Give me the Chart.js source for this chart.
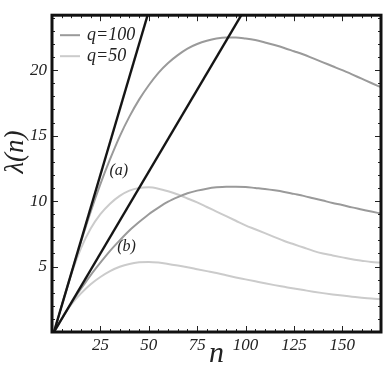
<!DOCTYPE html>
<html>
<head>
<meta charset="utf-8">
<script src="https://cdn.jsdelivr.net/npm/chart.js@4/dist/chart.umd.min.js"></script>
<style>
  html, body { margin: 0; padding: 0; background: #fff; }
  #wrap { width: 384px; height: 365px; }
</style>
</head>
<body>
<div id="wrap"><canvas id="c" width="384" height="365"></canvas></div>
<script>
// ---- data ----
const nValues = [1, 5, 10, 15, 20, 25, 30, 35, 40, 45, 50, 55, 60, 65, 70, 75, 80, 85, 90, 95, 100,
                 105, 110, 115, 120, 125, 130, 135, 140, 145, 150, 155, 160, 165, 170];
const q100Upper = [0, 2.0, 4.5, 6.9, 9.2, 11.3, 13.2, 14.95, 16.45, 17.75, 18.85, 19.8, 20.55, 21.15, 21.65, 22.0, 22.25, 22.42, 22.5, 22.5, 22.42,
                   22.3, 22.12, 21.92, 21.7, 21.45, 21.2, 20.9, 20.6, 20.3, 20.0, 19.68, 19.35, 19.02, 18.7];
const q100Lower = [0, 1.0, 2.2, 3.3, 4.35, 5.3, 6.2, 7.0, 7.75, 8.4, 9.0, 9.5, 9.95, 10.3, 10.6, 10.8, 10.95, 11.05, 11.1, 11.1, 11.08,
                   11.0, 10.92, 10.82, 10.7, 10.55, 10.4, 10.22, 10.04, 9.86, 9.7, 9.52, 9.36, 9.2, 9.05];
const q50Upper  = [0, 2.0, 4.4, 6.4, 7.9, 9.0, 9.8, 10.4, 10.8, 11.0, 11.05, 10.95, 10.75, 10.5, 10.2, 9.9, 9.55, 9.2, 8.85, 8.5, 8.15,
                   7.85, 7.55, 7.25, 6.95, 6.7, 6.45, 6.2, 6.0, 5.85, 5.7, 5.55, 5.45, 5.35, 5.3];
const q50Lower  = [0, 1.0, 2.1, 2.95, 3.65, 4.2, 4.65, 4.98, 5.2, 5.32, 5.35, 5.3, 5.2, 5.08, 4.95, 4.8, 4.65, 4.5, 4.33, 4.17, 4.02,
                   3.87, 3.72, 3.58, 3.45, 3.32, 3.2, 3.08, 2.97, 2.87, 2.78, 2.7, 2.62, 2.55, 2.5];
const steepLineN = [1, 60];
const steepLineL = [0, 29.5];
const shallowLineN = [1, 120];
const shallowLineL = [0, 29.75];
const seriesLabels = ['q=100', 'q=50'];
const curveTags = ['(a)', '(b)'];
const xTickLabels = [25, 50, 75, 100, 125, 150];
const yTickLabels = [5, 10, 15, 20];
const xRange = [0, 170];
const yRange = [0, 24.2];
const xTitle = 'n';
const yTitle = 'λ(n)';

const pts = (xs, ys) => xs.map((x, i) => ({ x: x, y: ys[i] }));

const C100 = '#9a9a9a';
const C50 = '#cbcbcb';
const SERIF = '"Liberation Serif", "Times New Roman", Times, serif';

const decor = {
  id: 'decor',
  afterDatasetsDraw(chart) {
    const ctx = chart.ctx;
    const a = chart.chartArea;
    const xs = chart.scales.x, ys = chart.scales.y;
    ctx.save();
    // minor + major ticks (inside), all four sides
    ctx.strokeStyle = '#222';
    ctx.lineWidth = 1;
    for (let v = 5; v < xRange[1]; v += 5) {
      const px = Math.round(xs.getPixelForValue(v)) + 0.5;
      const len = (v % 25 === 0) ? 6 : 3;
      ctx.beginPath();
      ctx.moveTo(px, a.bottom); ctx.lineTo(px, a.bottom - len);
      ctx.moveTo(px, a.top); ctx.lineTo(px, a.top + len);
      ctx.stroke();
    }
    for (let v = 1; v < yRange[1]; v += 1) {
      const py = Math.round(ys.getPixelForValue(v)) + 0.5;
      const len = (v % 5 === 0) ? 6 : 3;
      ctx.beginPath();
      ctx.moveTo(a.left, py); ctx.lineTo(a.left + len, py);
      ctx.moveTo(a.right, py); ctx.lineTo(a.right - len, py);
      ctx.stroke();
    }
    // frame
    ctx.strokeStyle = '#111';
    ctx.lineWidth = 3;
    ctx.strokeRect(a.left, a.top, a.right - a.left, a.bottom - a.top);
    // legend
    const legendColors = [C100, C50];
    ctx.font = 'italic 18px ' + SERIF;
    ctx.textBaseline = 'middle';
    ctx.textAlign = 'left';
    seriesLabels.forEach((lab, i) => {
      const y = a.top + 20 + i * 21;
      ctx.strokeStyle = legendColors[i];
      ctx.lineWidth = 2;
      ctx.beginPath();
      ctx.moveTo(a.left + 8, y); ctx.lineTo(a.left + 28, y);
      ctx.stroke();
      ctx.fillStyle = '#222';
      ctx.fillText(lab, a.left + 35, y);
    });
    // curve tags
    ctx.font = 'italic 16px ' + SERIF;
    ctx.textAlign = 'center';
    ctx.fillText(curveTags[0], xs.getPixelForValue(34.5), ys.getPixelForValue(12.3));
    ctx.fillText(curveTags[1], xs.getPixelForValue(38.5), ys.getPixelForValue(6.5));
    // y axis title (rotated)
    ctx.save();
    ctx.translate(16, 152);
    ctx.rotate(-Math.PI / 2);
    ctx.font = 'italic 27px ' + SERIF;
    ctx.textAlign = 'center';
    ctx.textBaseline = 'middle';
    ctx.fillText(yTitle, 0, 0);
    ctx.restore();
    ctx.restore();
  }
};

const curve = (label, data, color) => ({
  label: label, data: data, borderColor: color, borderWidth: 2,
  pointRadius: 0, showLine: true, cubicInterpolationMode: 'monotone', order: 2, clip: 0
});
const straight = (data) => ({
  label: '', data: data, borderColor: '#151515', borderWidth: 2.4,
  pointRadius: 0, showLine: true, order: 1, clip: 0
});

new Chart(document.getElementById('c'), {
  type: 'scatter',
  data: {
    datasets: [
      straight(pts(steepLineN, steepLineL)),
      straight(pts(shallowLineN, shallowLineL)),
      curve(seriesLabels[0], pts(nValues, q100Upper), C100),
      curve(seriesLabels[0], pts(nValues, q100Lower), C100),
      curve(seriesLabels[1], pts(nValues, q50Upper), C50),
      curve(seriesLabels[1], pts(nValues, q50Lower), C50)
    ]
  },
  options: {
    responsive: false,
    animation: false,
    devicePixelRatio: 1,
    layout: { padding: { left: 0, top: 2, right: 3, bottom: 0 } },
    plugins: { legend: { display: false }, tooltip: { enabled: false } },
    scales: {
      x: {
        type: 'linear', min: xRange[0], max: xRange[1],
        grid: { display: false, drawTicks: false },
        border: { display: false },
        afterBuildTicks: (s) => { s.ticks = xTickLabels.map(v => ({ value: v })); },
        afterFit: (s) => { s.height = 33; },
        ticks: { color: '#222', padding: 3, maxRotation: 0, autoSkip: false,
                 font: { family: SERIF, style: 'italic', size: 17 } },
        title: { display: true, text: xTitle, color: '#222', padding: { top: 0, bottom: 0 },
                 font: { family: SERIF, style: 'italic', size: 30, lineHeight: 0.7 } }
      },
      y: {
        type: 'linear', min: yRange[0], max: yRange[1],
        grid: { display: false, drawTicks: false },
        border: { display: false },
        afterBuildTicks: (s) => { s.ticks = yTickLabels.map(v => ({ value: v })); },
        afterFit: (s) => { s.width = 52; },
        ticks: { color: '#222', padding: 5, autoSkip: false,
                 font: { family: SERIF, style: 'italic', size: 17 } },
        title: { display: false }
      }
    }
  },
  plugins: [decor]
});
</script>
</body>
</html>
